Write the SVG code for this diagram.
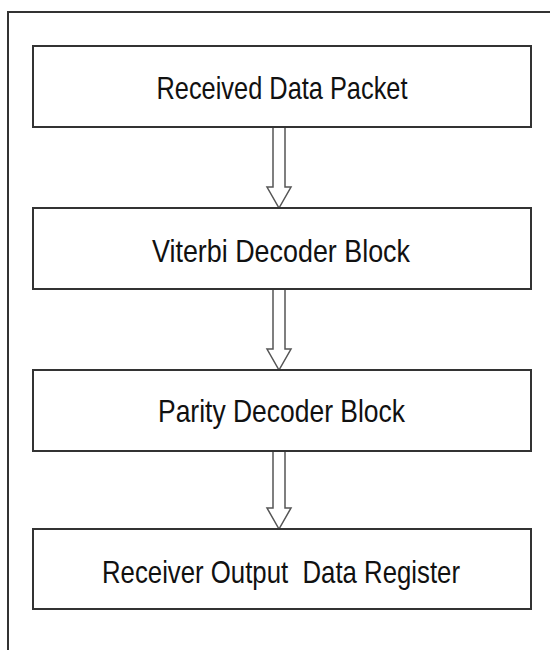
<svg xmlns="http://www.w3.org/2000/svg" width="550" height="650" viewBox="0 0 550 650">
<style>
.frame{fill:none;stroke:#333;stroke-width:2}
.box{fill:#fff;stroke:#333;stroke-width:2}
.lbl{font-family:"Liberation Sans",Arial,sans-serif;font-size:32px;fill:#111;text-anchor:middle}
.arr{fill:#fff;stroke:#555;stroke-width:1.5;stroke-linejoin:miter}
</style>
<rect width="550" height="650" fill="#fff"/>
<path class="frame" d="M8,660 V12 H560"/>
<g id="connectors">
<polygon class="arr" points="273,127 285,127 285,187 291,187 279,208 267,187 273,187"/>
<polygon class="arr" points="273,289 285,289 285,349 291,349 279,370 267,349 273,349"/>
<polygon class="arr" points="273,451 285,451 285,508 291,508 279,529 267,508 273,508"/>
</g>
<g id="n1">
<rect class="box" x="33" y="46" width="498" height="81"/>
<text class="lbl" x="282" y="99" textLength="251" lengthAdjust="spacingAndGlyphs">Received Data Packet</text>
</g>
<g id="n2">
<rect class="box" x="33" y="208" width="498" height="81"/>
<text class="lbl" x="281" y="262" textLength="258" lengthAdjust="spacingAndGlyphs">Viterbi Decoder Block</text>
</g>
<g id="n3">
<rect class="box" x="33" y="370" width="498" height="81"/>
<text class="lbl" x="281.5" y="422" textLength="247" lengthAdjust="spacingAndGlyphs">Parity Decoder Block</text>
</g>
<g id="n4">
<rect class="box" x="33" y="529" width="498" height="80"/>
<text class="lbl" x="281" y="583" textLength="358" lengthAdjust="spacingAndGlyphs" style="white-space:pre">Receiver Output  Data Register</text>
</g>
</svg>
